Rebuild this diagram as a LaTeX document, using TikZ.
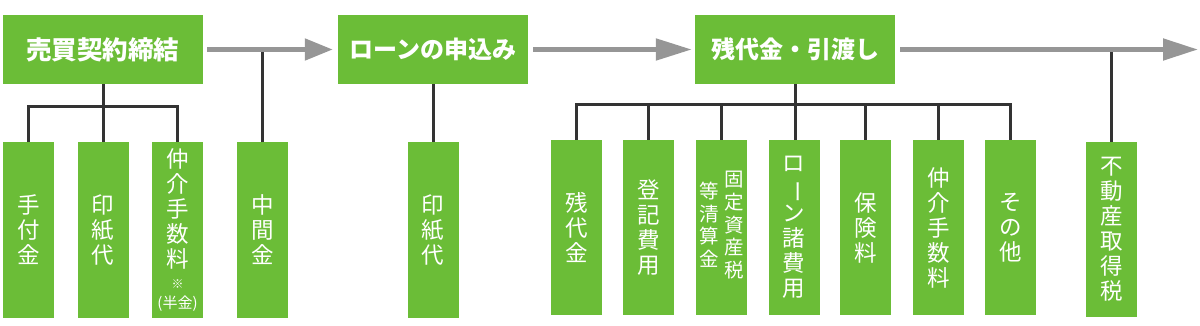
\documentclass[tikz,border=0pt]{standalone}
\usepackage{fontspec}
\usepackage{graphicx}
\setmainfont{Noto Sans CJK JP}
\usetikzlibrary{arrows.meta}
\definecolor{leafgreen}{RGB}{107,189,55}
\definecolor{arrowgray}{RGB}{150,150,150}
\definecolor{treegray}{RGB}{51,51,51}
\tikzset{
  headbox/.style={rectangle, fill=leafgreen, text=white, inner sep=0pt,
    minimum height=69pt, font=\bfseries\fontsize{24}{26}\selectfont},
  leafbox/.style={rectangle, fill=leafgreen, text=white, inner sep=0pt,
    minimum width=51pt, minimum height=175pt, align=center,
    font=\fontsize{22.5}{25}\selectfont},
  treeline/.style={draw=treegray, line width=3pt},
  flowarrow/.style={draw=arrowgray, line width=5pt},
}
\newcommand{\vbar}{\rotatebox[origin=c]{-90}{ー}}
\begin{document}
\begin{tikzpicture}[x=1pt,y=-1pt]
\useasboundingbox (0,0) rectangle (1200,326);
% head boxes
\node[headbox, minimum width=200pt, font=\bfseries\fontsize{25.5}{27}\selectfont] (b1) at (103,49.5) {売買契約締結};
\node[headbox, minimum width=190pt] (b2) at (433,49.5) {ローンの申込み};
\node[headbox, minimum width=200pt] (b3) at (795,49.5) {残代金・引渡し};
% leaves group 1
\node[leafbox] (l1) at (28.5,230) {手\\付\\金};
\node[leafbox] (l2) at (103,230) {印\\紙\\代};
\node[leafbox] (l3) at (177.5,230) {仲\\介\\手\\数\\料\\[-4pt]{\fontsize{12}{12}\selectfont ※}\\[-5pt]{\fontsize{15}{15}\selectfont (半金)}};
\node[leafbox] (l4) at (262.5,230) {中\\間\\金};
\node[leafbox] (l5) at (433,230) {印\\紙\\代};
% leaves group 3
\node[leafbox] (r1) at (576.5,227.5) {残\\代\\金};
\node[leafbox] (r2) at (648.5,227.5) {登\\記\\費\\用};
\node[leafbox] (r3) at (721.5,227.5) {\fontsize{19.5}{21}\selectfont\begin{tabular}[c]{@{}c@{}}等\\清\\算\\金\end{tabular}\hspace{5.5pt}\begin{tabular}[c]{@{}c@{}}固\\定\\資\\産\\税\end{tabular}};
\node[leafbox] (r4) at (794,227.5) {ロ\\\vbar\\ン\\諸\\費\\用};
\node[leafbox] (r5) at (865.5,227.5) {保\\険\\料};
\node[leafbox] (r6) at (938.5,227.5) {仲\\介\\手\\数\\料};
\node[leafbox] (r7) at (1010.5,227.5) {そ\\の\\他};
\node[leafbox] (r8) at (1111.5,229.5) {不\\動\\産\\取\\得\\税};
% tree connectors
\coordinate (h1) at (0,107);
\coordinate (h3) at (0,105);
\draw[treeline] (b1.south) -- (b1.south |- l2.north);
\draw[treeline] (l1.north) -- (l1.north |- h1) -- (l3.north |- h1) -- (l3.north);
\draw[treeline] (l4.north) -- (l4.north |- b1.east);
\draw[treeline] (b2.south) -- (b2.south |- l5.north);
\draw[treeline] (b3.south) -- (b3.south |- r4.north);
\draw[treeline] (r1.north) -- (r1.north |- h3) -- (r7.north |- h3) -- (r7.north);
\foreach \n in {r2,r3,r5,r6} \draw[treeline] (\n.north) -- (\n.north |- h3);
\draw[treeline] (r8.north) -- (r8.north |- b3.east);
% flow arrows
\coordinate (end3) at (1198,49.5);
\draw[flowarrow, -{Triangle[length=28pt,width=21pt]}] ([xshift=4pt]b1.east) -- ([xshift=-5pt]b2.west);
\draw[flowarrow, -{Triangle[length=36pt,width=21pt]}] ([xshift=5pt]b2.east) -- ([xshift=-3pt]b3.west);
\draw[flowarrow, -{Triangle[length=35pt,width=21pt]}] ([xshift=5pt]b3.east) -- (end3);
\end{tikzpicture}
\end{document}
